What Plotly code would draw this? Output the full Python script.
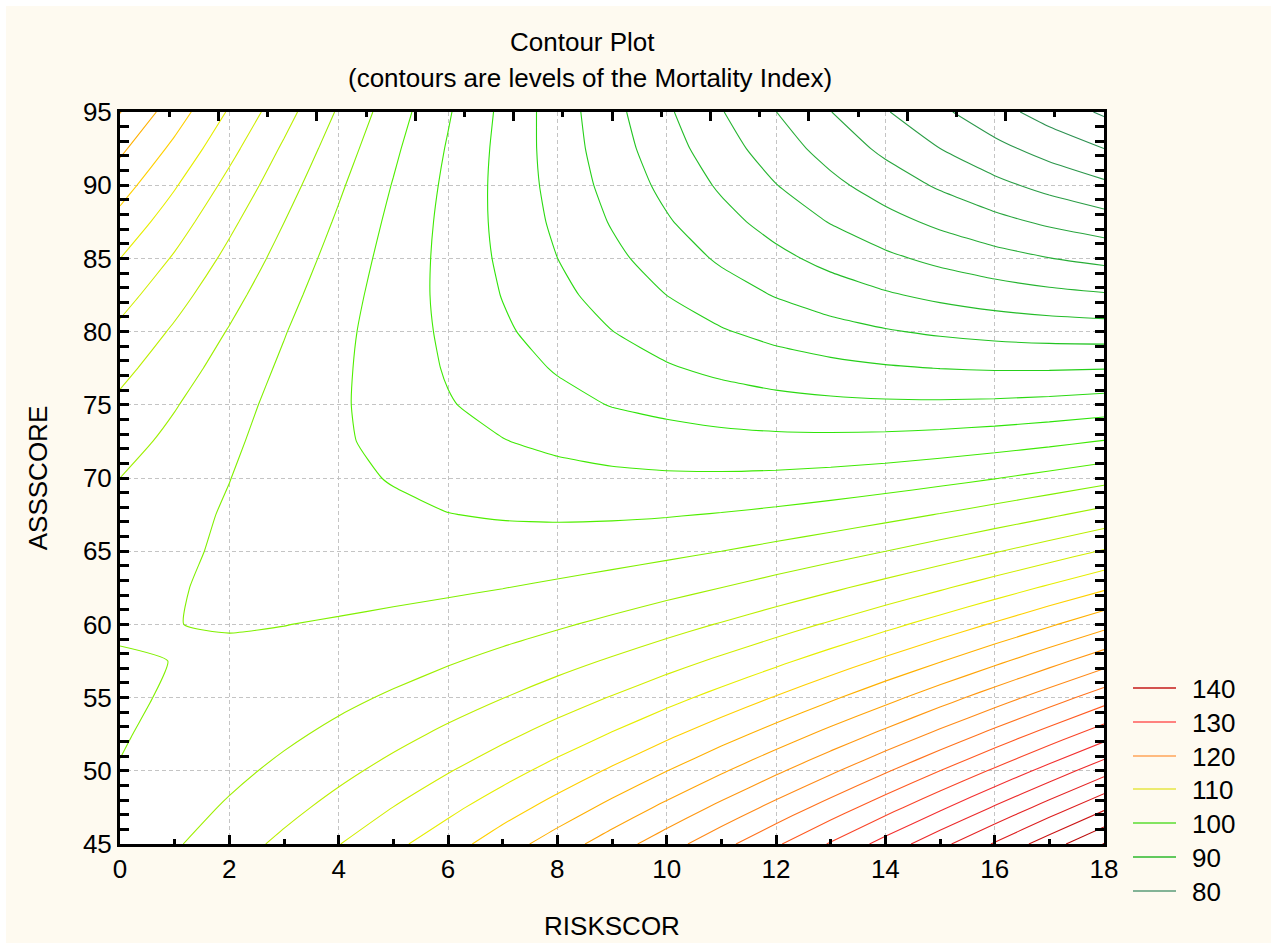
import plotly.graph_objects as go

# ---------------- data ----------------
risk_scores = [0, 1, 2, 3, 4, 5, 6, 7, 8, 9, 10, 11, 12, 13, 14, 15, 16, 17, 18]
ass_scores = [45, 47.5, 50, 52.5, 55, 57.5, 60, 62.5, 65, 67.5, 70,
              72.5, 75, 77.5, 80, 82.5, 85, 87.5, 90, 92.5, 95]

# Mortality Index estimated on the grid (rows = ASSSCORE, columns = RISKSCOR)
mortality = [
    [102.64, 103.80, 105.08, 106.46, 107.94, 109.54, 111.16, 113.05, 114.97, 117.00, 119.13, 121.37, 123.72, 126.18, 128.74, 131.41, 134.19, 137.08, 140.07],
    [102.30, 103.18, 104.23, 105.38, 106.65, 108.02, 109.49, 111.08, 112.77, 114.57, 116.48, 118.50, 120.62, 122.85, 125.19, 127.64, 130.19, 132.85, 135.62],
    [102.05, 102.69, 103.51, 104.44, 105.48, 106.63, 107.88, 109.24, 110.71, 112.28, 113.97, 115.76, 117.65, 119.66, 121.77, 124.00, 126.32, 128.76, 131.30],
    [101.90, 102.33, 102.93, 103.63, 104.45, 105.37, 106.40, 107.53, 108.78, 110.13, 111.59, 113.15, 114.83, 116.61, 118.50, 120.49, 122.60, 124.81, 127.13],
    [101.85, 102.10, 102.48, 102.96, 103.55, 104.24, 105.05, 105.96, 106.98, 108.11, 109.34, 110.68, 112.13, 113.69, 115.35, 117.13, 119.01, 120.99, 123.09],
    [101.93, 102.01, 102.16, 102.41, 102.78, 103.25, 103.83, 104.52, 105.31, 106.22, 107.23, 108.35, 109.57, 110.90, 112.35, 113.89, 115.55, 117.31, 119.18],
    [102.10, 102.01, 101.95, 101.98, 102.12, 102.37, 102.73, 103.19, 103.76, 104.44, 105.23, 106.13, 107.13, 108.24, 109.45, 110.78, 112.21, 113.75, 115.40],
    [102.40, 102.06, 101.84, 101.65, 101.57, 101.60, 101.73, 101.97, 102.32, 102.78, 103.34, 104.01, 104.79, 105.68, 106.67, 107.77, 108.98, 110.30, 111.72],
    [102.81, 102.19, 101.84, 101.43, 101.12, 100.93, 100.84, 100.85, 100.98, 101.21, 101.55, 102.00, 102.56, 103.22, 103.99, 104.87, 105.86, 106.95, 108.15],
    [103.35, 102.55, 101.82, 101.25, 100.73, 100.36, 100.04, 99.84, 99.74, 99.75, 99.87, 100.10, 100.43, 100.87, 101.42, 102.08, 102.84, 103.71, 104.69],
    [104.00, 102.99, 102.03, 101.18, 100.41, 99.89, 99.32, 98.91, 98.61, 98.40, 98.29, 98.30, 98.41, 98.63, 98.95, 99.39, 99.93, 100.58, 101.33],
    [104.75, 103.50, 102.31, 101.24, 100.24, 99.50, 98.70, 98.07, 97.58, 97.15, 96.82, 96.60, 96.49, 96.49, 96.59, 96.81, 97.13, 97.55, 98.09],
    [105.60, 104.12, 102.68, 101.40, 100.24, 99.20, 98.13, 97.38, 96.60, 95.92, 95.46, 95.02, 94.68, 94.46, 94.34, 94.33, 94.43, 94.64, 94.95],
    [106.55, 104.86, 103.22, 101.69, 100.33, 99.07, 97.83, 96.79, 95.84, 94.97, 94.20, 93.54, 92.98, 92.54, 92.20, 91.97, 91.84, 91.83, 91.92],
    [107.60, 105.72, 103.87, 102.10, 100.48, 99.05, 97.62, 96.30, 95.13, 94.03, 93.04, 92.16, 91.38, 90.72, 90.16, 89.71, 89.36, 89.13, 89.00],
    [108.75, 106.71, 104.64, 102.64, 100.79, 99.10, 97.46, 95.93, 94.52, 93.20, 91.99, 90.89, 89.89, 89.00, 88.22, 87.55, 86.99, 86.53, 86.18],
    [110.01, 107.79, 105.50, 103.29, 101.20, 99.27, 97.41, 95.66, 94.01, 92.48, 91.04, 89.72, 88.51, 87.40, 86.40, 85.51, 84.72, 84.04, 83.47],
    [111.37, 108.93, 106.42, 104.02, 101.72, 99.53, 97.45, 95.48, 93.61, 91.85, 90.20, 88.66, 87.23, 85.90, 84.68, 83.57, 82.56, 81.66, 80.87],
    [112.83, 110.17, 107.44, 104.82, 102.30, 99.90, 97.59, 95.40, 93.32, 91.34, 89.47, 87.71, 86.05, 84.50, 83.07, 81.73, 80.51, 79.39, 78.38],
    [114.39, 111.52, 108.57, 105.72, 102.99, 100.36, 97.84, 95.43, 93.13, 90.93, 88.84, 86.86, 84.98, 83.22, 81.56, 80.01, 78.56, 77.23, 76.00],
    [116.06, 112.96, 109.79, 106.73, 103.78, 100.93, 98.19, 95.56, 93.04, 90.62, 88.31, 86.11, 84.02, 82.04, 80.16, 78.39, 76.73, 75.17, 73.72],
]

contour_start = 74
contour_end = 140
contour_step = 2

legend_levels = [140, 130, 120, 110, 100, 90, 80]
legend_colors = ["#c41a1a", "#ff5a5a", "#ffa55a", "#e6e645", "#5adc32", "#2db92d", "#5a9b78"]

line_colorscale = [
    [0.0000, "#2e8b57"],
    [0.0909, "#2a9d45"],
    [0.2424, "#22c422"],
    [0.3333, "#2fe40a"],
    [0.3939, "#50ee00"],
    [0.4242, "#80f000"],
    [0.4848, "#bcef00"],
    [0.5455, "#e6ee00"],
    [0.5758, "#ffd000"],
    [0.6061, "#ffb000"],
    [0.6970, "#ff8a18"],
    [0.7576, "#ff5a22"],
    [0.8182, "#f33030"],
    [0.9091, "#dd1f1f"],
    [1.0000, "#a80000"],
]

# ---------------- layout geometry ----------------
W, H = 1277, 949
L, R, T, B = 120, 173, 112, 105
PW, PH = W - L - R, H - T - B
FONT = "Liberation Sans, Arial, Helvetica, sans-serif"


def px_x(p):
    return (p - L) / PW


def px_y(p):
    return (H - B - p) / PH


fig = go.Figure()

fig.add_trace(go.Contour(
    x=risk_scores, y=ass_scores, z=mortality,
    contours=dict(start=contour_start, end=contour_end, size=contour_step,
                  coloring="lines", showlabels=False),
    line=dict(width=1.1, smoothing=0.5),
    colorscale=line_colorscale, zauto=False,
    zmin=contour_start, zmax=contour_end,
    showscale=False, hoverinfo="skip",
))

# invisible trace to activate the top tick axis
fig.add_trace(go.Scatter(x=[None], y=[None], xaxis="x2", yaxis="y",
                         showlegend=False, hoverinfo="skip"))

grid_color = "#c4c4c4"

fig.update_layout(
    width=W, height=H, autosize=False,
    margin=dict(l=L, r=R, t=T, b=B, pad=0, autoexpand=False),
    paper_bgcolor="#fefaf0", plot_bgcolor="white",
    font=dict(family=FONT, size=26, color="black"),
    showlegend=False,
    xaxis=dict(
        range=[0, 18], tick0=0, dtick=2, ticks="inside", ticklen=9, tickwidth=2.5,
        tickcolor="black", showline=True, linecolor="black", linewidth=3, mirror=True,
        showgrid=True, gridcolor=grid_color, gridwidth=1, griddash="4px,3px",
        zeroline=False, tickfont=dict(size=26, family=FONT),
        minor=dict(dtick=1, tick0=0, ticks="inside", ticklen=5, tickwidth=2.5,
                   tickcolor="black", showgrid=False),
        title=dict(text="RISKSCOR", font=dict(size=26, family=FONT), standoff=34),
        automargin=False,
    ),
    xaxis2=dict(
        range=[0, 18], overlaying="x", side="top", anchor="y",
        tick0=0, dtick=1.8, ticks="inside", ticklen=9, tickwidth=2.5, tickcolor="black",
        showticklabels=False, showgrid=False, showline=False, zeroline=False,
        minor=dict(dtick=0.9, tick0=0, ticks="inside", ticklen=5, tickwidth=2.5,
                   tickcolor="black", showgrid=False),
        automargin=False,
    ),
    yaxis=dict(
        range=[45, 95], tick0=45, dtick=5, ticks="inside", ticklen=9, tickwidth=2.5,
        tickcolor="black", showline=True, linecolor="black", linewidth=3, mirror="allticks",
        showgrid=True, gridcolor=grid_color, gridwidth=1, griddash="4px,3px",
        zeroline=False, tickfont=dict(size=26, family=FONT),
        minor=dict(dtick=1, tick0=45, ticks="inside", ticklen=5, tickwidth=2.5,
                   tickcolor="black", showgrid=False),
        title=dict(text="ASSSCORE", font=dict(size=26, family=FONT), standoff=28),
        automargin=False,
    ),
)

annotations = [
    dict(text="Contour Plot", x=px_x(582), y=px_y(42), xref="paper", yref="paper",
         showarrow=False, xanchor="center", yanchor="middle",
         font=dict(size=26, family=FONT, color="black")),
    dict(text="(contours are levels of the Mortality Index)", x=px_x(590), y=px_y(78),
         xref="paper", yref="paper", showarrow=False, xanchor="center", yanchor="middle",
         font=dict(size=26, family=FONT, color="black")),
]

shapes = [
    # white frame around the cream page
    dict(type="rect", xref="paper", yref="paper",
         x0=px_x(0), x1=px_x(W), y0=px_y(H), y1=px_y(0),
         line=dict(color="white", width=12), fillcolor="rgba(0,0,0,0)", layer="above"),
]

legend_y = [688, 722, 756, 789, 823, 857, 891]
for lvl, col, yy in zip(legend_levels, legend_colors, legend_y):
    shapes.append(dict(type="line", xref="paper", yref="paper",
                       x0=px_x(1133), x1=px_x(1176), y0=px_y(yy), y1=px_y(yy),
                       line=dict(color=col, width=1.5), layer="above"))
    annotations.append(dict(text=str(lvl), x=px_x(1190), y=px_y(yy + 1),
                            xref="paper", yref="paper", showarrow=False,
                            xanchor="left", yanchor="middle",
                            font=dict(size=26, family=FONT, color="black")))

fig.update_layout(annotations=annotations, shapes=shapes)

fig.write_html("out.html")
